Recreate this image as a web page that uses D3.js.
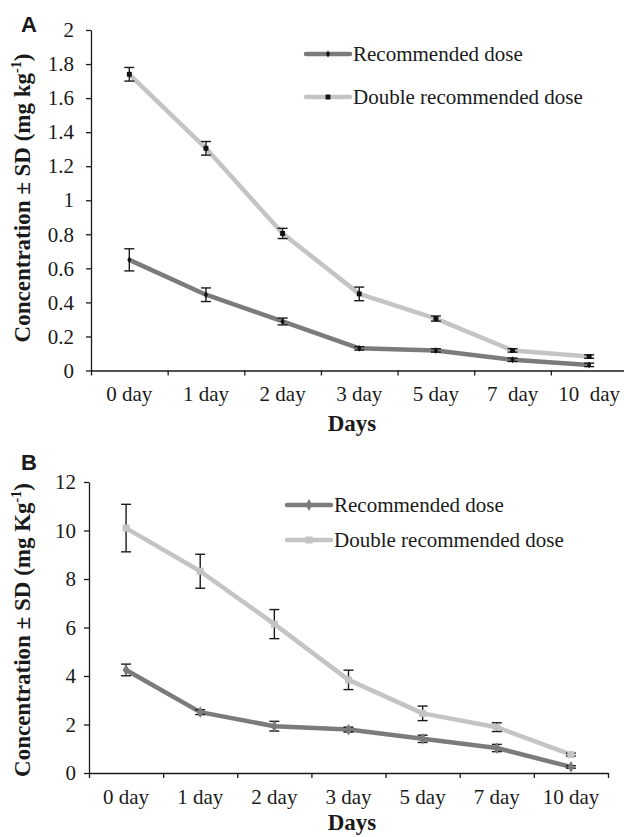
<!DOCTYPE html>
<html>
<head>
<meta charset="utf-8">
<script src="https://cdnjs.cloudflare.com/ajax/libs/d3/7.8.5/d3.min.js"></script>
<style>
  body { margin: 0; background: #fff; }
</style>
</head>
<body>
<div id="chart"></div>
<script>
// Données
const daysA = ["0 day", "1 day", "2 day", "3 day", "5 day", "7  day", "10  day"];
const daysB = ["0 day", "1 day", "2 day", "3 day", "5 day", "7 day", "10 day"];
const seriesNames = ["Recommended dose", "Double recommended dose"];

const recA = [0.65, 0.445, 0.288, 0.13, 0.118, 0.063, 0.033];
const recA_sd = [0.065, 0.04, 0.02, 0.01, 0.01, 0.01, 0.01];
const dblA = [1.74, 1.305, 0.805, 0.45, 0.305, 0.118, 0.082];
const dblA_sd = [0.04, 0.04, 0.03, 0.04, 0.015, 0.01, 0.01];

const recB = [4.25, 2.51, 1.93, 1.79, 1.41, 1.03, 0.25];
const recB_sd = [0.24, 0.1, 0.2, 0.1, 0.15, 0.15, 0.05];
const dblB = [10.1, 8.32, 6.14, 3.84, 2.46, 1.89, 0.76];
const dblB_sd = [0.98, 0.7, 0.6, 0.4, 0.3, 0.18, 0.06];

const yTicksA = [0, 0.2, 0.4, 0.6, 0.8, 1, 1.2, 1.4, 1.6, 1.8, 2];
const yTicksB = [0, 2, 4, 6, 8, 10, 12];

const serif = "'Liberation Serif', 'Times New Roman', Times, serif";
const darkGray = "#7b7b7b";
const lightGray = "#c4c4c4";
const ink = "#1a1a1a";

const svg = d3.select("#chart")
    .append("svg")
    .attr("width", 624)
    .attr("height", 837)
    .style("font-family", serif);

function drawPanel(p) {
    const g = svg.append("g");

    const y = d3.scaleLinear().domain(p.yDomain).range(p.yRange);
    const xEdge = d3.scaleLinear().domain([0, p.days.length]).range(p.xRange);
    const x = d3.scaleBand().domain(p.days).range(p.xRange);
    const cx = d => x(d) + x.bandwidth() / 2;
    const axisY = p.yRange[0];
    const axisX = p.xRange[0];

    // Eixo Y
    const gy = g.append("g")
        .attr("transform", `translate(${axisX},0)`)
        .call(d3.axisLeft(y).tickValues(p.yTicks).tickSize(5).tickSizeOuter(0)
            .tickPadding(p.yPad).tickFormat(d => String(+d.toFixed(1))));
    gy.attr("font-family", null).attr("font-size", null);
    gy.selectAll("text").style("font-family", serif).style("font-size", "21px").attr("fill", ink);
    gy.selectAll("line, path").attr("stroke", ink).attr("stroke-width", 1.3);

    // Eixo X (marcas nas fronteiras)
    const gx = g.append("g")
        .attr("transform", `translate(0,${axisY})`)
        .call(d3.axisBottom(xEdge).tickValues(d3.range(p.days.length + 1))
            .tickFormat("").tickSize(5).tickSizeOuter(0));
    gx.selectAll("line, path").attr("stroke", ink).attr("stroke-width", 1.3);

    // Rótulos X
    const gl = g.append("g")
        .attr("transform", `translate(0,${axisY})`)
        .call(d3.axisBottom(x).tickSize(0));
    gl.attr("font-family", null).attr("font-size", null);
    gl.select(".domain").remove();
    gl.selectAll("text")
        .attr("y", p.xLabelBase - axisY)
        .attr("dy", 0)
        .style("font-family", serif)
        .style("font-size", "21px")
        .style("white-space", "pre")
        .attr("fill", ink);

    // Título X
    g.append("text")
        .attr("x", 352)
        .attr("y", p.daysBase)
        .attr("text-anchor", "middle")
        .attr("fill", ink)
        .style("font-family", serif)
        .style("font-size", "23px")
        .style("font-weight", "bold")
        .text("Days");

    // Título Y
    const yt = g.append("text")
        .attr("transform", `translate(${p.yTitleX},${p.yTitleMid}) rotate(-90)`)
        .attr("text-anchor", "middle")
        .attr("fill", ink)
        .style("font-family", serif)
        .style("font-size", "23px")
        .style("font-weight", "bold");
    yt.append("tspan").text(p.yTitle);
    yt.append("tspan").attr("dy", -9).style("font-size", "14px").text("-1");
    yt.append("tspan").attr("dy", 9).text(")");

    // Letra do painel
    g.append("text")
        .attr("x", 21)
        .attr("y", p.letterY)
        .attr("fill", ink)
        .style("font-family", "'Liberation Sans', Arial, sans-serif")
        .style("font-size", "22px")
        .style("font-weight", "bold")
        .text(p.letter);

    const series = [
        { name: seriesNames[0], values: p.rec, sd: p.recSd, color: darkGray },
        { name: seriesNames[1], values: p.dbl, sd: p.dblSd, color: lightGray }
    ];

    const line = d3.line()
        .x((d, i) => cx(p.days[i]))
        .y(d => y(d));

    series.forEach((s, si) => {
        g.append("path")
            .datum(s.values)
            .attr("fill", "none")
            .attr("stroke", s.color)
            .attr("stroke-width", 4.5)
            .attr("stroke-linejoin", "round")
            .attr("d", line);

        // Barras de erro
        const eb = g.append("g").selectAll("g")
            .data(s.values)
            .enter()
            .append("g")
            .attr("stroke", ink)
            .attr("stroke-width", 1.4);
        eb.append("line")
            .attr("x1", (d, i) => cx(p.days[i]))
            .attr("x2", (d, i) => cx(p.days[i]))
            .attr("y1", (d, i) => y(d + s.sd[i]))
            .attr("y2", (d, i) => y(d - s.sd[i]));
        [1, -1].forEach(sign => {
            eb.append("line")
                .attr("x1", (d, i) => cx(p.days[i]) - 5)
                .attr("x2", (d, i) => cx(p.days[i]) + 5)
                .attr("y1", (d, i) => y(d + sign * s.sd[i]))
                .attr("y2", (d, i) => y(d + sign * s.sd[i]));
        });

        // Marcadores
        const sym = d3.symbol()
            .type(si === 0 ? d3.symbolDiamond : d3.symbolSquare)
            .size(p.markerSize[si]);
        g.append("g").selectAll("path")
            .data(s.values)
            .enter()
            .append("path")
            .attr("transform", (d, i) => `translate(${cx(p.days[i])},${y(d)})`)
            .attr("d", sym)
            .attr("fill", p.markerFill[si]);

        // Legenda
        const ly = p.legendY[si];
        g.append("line")
            .attr("x1", p.legendX[0]).attr("x2", p.legendX[1])
            .attr("y1", ly).attr("y2", ly)
            .attr("stroke", s.color)
            .attr("stroke-width", 4.5)
            .attr("stroke-linecap", "round");
        g.append("path")
            .attr("transform", `translate(${(p.legendX[0] + p.legendX[1]) / 2},${ly})`)
            .attr("d", sym)
            .attr("fill", p.markerFill[si]);
        g.append("text")
            .attr("x", p.legendX[1] + 3)
            .attr("y", ly)
            .attr("dy", "0.33em")
            .attr("fill", ink)
            .style("font-family", serif)
            .style("font-size", "21px")
            .text(s.name);
    });
}

drawPanel({
    letter: "A", letterY: 32,
    days: daysA, rec: recA, recSd: recA_sd, dbl: dblA, dblSd: dblA_sd,
    yDomain: [0, 2], yRange: [370.5, 30], yTicks: yTicksA, yPad: 12,
    xRange: [91, 627.5],
    xLabelBase: 401, daysBase: 431,
    yTitle: "Concentration ± SD (mg kg", yTitleX: 30, yTitleMid: 198,
    legendX: [306, 350], legendY: [54, 97],
    markerSize: [14, 24], markerFill: ["#111", "#111"]
});

drawPanel({
    letter: "B", letterY: 470,
    days: daysB, rec: recB, recSd: recB_sd, dbl: dblB, dblSd: dblB_sd,
    yDomain: [0, 12], yRange: [773, 482], yTicks: yTicksB, yPad: 8,
    xRange: [89, 608],
    xLabelBase: 804, daysBase: 830,
    yTitle: "Concentration ± SD (mg Kg", yTitleX: 30, yTitleMid: 630,
    legendX: [287, 331], legendY: [505, 540],
    markerSize: [40, 50], markerFill: [darkGray, lightGray]
});
</script>
</body>
</html>
